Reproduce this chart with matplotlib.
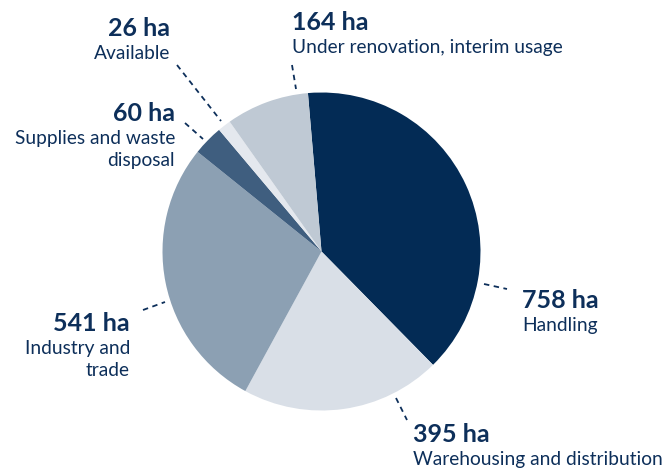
import matplotlib.pyplot as plt

# area per usage, hectares (clockwise from the top)
categories = ["Handling", "Warehousing and distribution", "Industry and\ntrade",
              "Supplies and waste\ndisposal", "Available", "Under renovation, interim usage"]
areas = [758, 395, 541, 60, 26, 164]
value_labels = [f"{a} ha" for a in areas]
colors = ["#032b55", "#d9dfe7", "#8ca0b3", "#3f5e7f", "#e4e8ee", "#bfc9d4"]

TEXT = "#0d2f5a"
H = 470  # figure height in px, used to flip the pixel coordinates

# label layout in pixel coords: (x, baseline y of value, alignment, line start, line end)
layout = [
    (522, 308, "left", (484, 284), (507, 289)),
    (413, 442, "left", (396, 398), (407, 420)),
    (130, 331, "right", (143, 310), (165, 302)),
    (175, 121, "right", (185, 123), (203, 139)),
    (170, 36, "right", (177, 65), (221, 121)),
    (292, 30, "left", (292, 65), (296, 89)),
]

plt.rcParams['font.family'] = ['Lato', 'DejaVu Sans']

fig = plt.figure(figsize=(6.66, 4.7), dpi=100)
ax = fig.add_axes([0, 0, 1, 1])

ax.pie(areas, colors=colors, startangle=94.9, counterclock=False,
       center=(321.5, H - 251.5), radius=159, frame=True,
       wedgeprops=dict(linewidth=0))
ax.set_xlim(0, 666)
ax.set_ylim(0, H)
ax.set_aspect('equal')
ax.axis('off')

for (x, y, ha, p0, p1), val, cat in zip(layout, value_labels, categories):
    ax.text(x, H - y, val, ha=ha, va='baseline', fontsize=18,
            fontweight='bold', color=TEXT)
    for i, line in enumerate(cat.split("\n")):
        ax.text(x, H - y - 23 - 22 * i, line, ha=ha, va='baseline',
                fontsize=13.8, color=TEXT)
    ax.plot([p0[0], p1[0]], [H - p0[1], H - p1[1]], color=TEXT,
            lw=1.3, ls=(0, (3, 2.5)))

fig.savefig("out.png", dpi=100)
